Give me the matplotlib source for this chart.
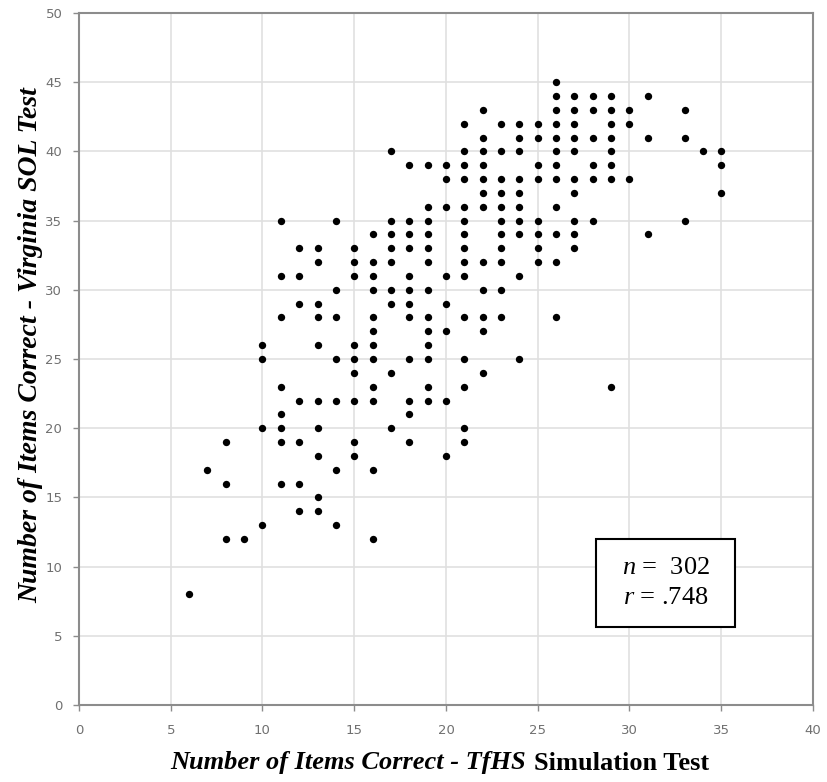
import matplotlib
matplotlib.use("Agg")
import matplotlib.pyplot as plt
from matplotlib.offsetbox import TextArea, HPacker, AnchoredOffsetbox
from matplotlib.patches import Rectangle

# TfHS simulation test score (x) and Virginia SOL test score (y), row by row
tfhs = [
    26,
    26, 27, 28, 29, 31,
    22, 26, 27, 28, 29, 30, 33,
    21, 23, 24, 25, 26, 27, 29, 30,
    22, 24, 25, 26, 27, 28, 29, 31, 33,
    17, 21, 22, 23, 24, 26, 27, 29, 34, 35,
    18, 19, 20, 21, 22, 25, 26, 28, 29, 35,
    20, 21, 22, 23, 24, 25, 26, 27, 28, 29, 30,
    22, 23, 24, 27, 35,
    19, 20, 21, 22, 23, 24, 26,
    11, 14, 17, 18, 19, 21, 23, 24, 25, 27, 28, 33,
    16, 17, 18, 19, 21, 23, 24, 25, 26, 27, 31,
    12, 13, 15, 17, 18, 19, 21, 23, 25, 27,
    13, 15, 16, 17, 19, 21, 22, 23, 25, 26,
    11, 12, 15, 16, 18, 20, 21, 24,
    14, 16, 17, 18, 19, 22, 23,
    12, 13, 17, 18, 20,
    11, 13, 14, 16, 18, 19, 21, 22, 23, 26,
    16, 19, 20, 22,
    10, 13, 15, 16, 19,
    10, 14, 15, 16, 18, 19, 21, 24,
    15, 17, 22,
    11, 16, 19, 21, 29,
    12, 13, 14, 15, 16, 18, 19, 20,
    11, 18,
    10, 11, 13, 17, 21,
    8, 11, 12, 15, 18, 21,
    13, 15, 20,
    7, 14, 16,
    8, 11, 12,
    13,
    12, 13,
    10, 14,
    8, 9, 16,
    6,
]
sol = [
    45,
    44, 44, 44, 44, 44,
    43, 43, 43, 43, 43, 43, 43,
    42, 42, 42, 42, 42, 42, 42, 42,
    41, 41, 41, 41, 41, 41, 41, 41, 41,
    40, 40, 40, 40, 40, 40, 40, 40, 40, 40,
    39, 39, 39, 39, 39, 39, 39, 39, 39, 39,
    38, 38, 38, 38, 38, 38, 38, 38, 38, 38, 38,
    37, 37, 37, 37, 37,
    36, 36, 36, 36, 36, 36, 36,
    35, 35, 35, 35, 35, 35, 35, 35, 35, 35, 35, 35,
    34, 34, 34, 34, 34, 34, 34, 34, 34, 34, 34,
    33, 33, 33, 33, 33, 33, 33, 33, 33, 33,
    32, 32, 32, 32, 32, 32, 32, 32, 32, 32,
    31, 31, 31, 31, 31, 31, 31, 31,
    30, 30, 30, 30, 30, 30, 30,
    29, 29, 29, 29, 29,
    28, 28, 28, 28, 28, 28, 28, 28, 28, 28,
    27, 27, 27, 27,
    26, 26, 26, 26, 26,
    25, 25, 25, 25, 25, 25, 25, 25,
    24, 24, 24,
    23, 23, 23, 23, 23,
    22, 22, 22, 22, 22, 22, 22, 22,
    21, 21,
    20, 20, 20, 20, 20,
    19, 19, 19, 19, 19, 19,
    18, 18, 18,
    17, 17, 17,
    16, 16, 16,
    15,
    14, 14,
    13, 13,
    12, 12, 12,
    8,
]

x_ticks = [0, 5, 10, 15, 20, 25, 30, 35, 40]
y_ticks = [0, 5, 10, 15, 20, 25, 30, 35, 40, 45, 50]
stats_lines = ["$\\mathit{n}$ =  302", "$\\mathit{r}$ = .748"]

plt.rcParams['mathtext.fontset'] = 'custom'
plt.rcParams['mathtext.it'] = 'Liberation Serif:italic'
plt.rcParams['mathtext.rm'] = 'Liberation Serif'

fig = plt.figure(figsize=(8.28, 7.82), dpi=100)
ax = fig.add_axes([79 / 828, 1 - 705 / 782, (813 - 79) / 828, (705 - 13) / 782])

ax.scatter(tfhs, sol, s=28, c='black', marker='o', linewidths=0, zorder=3)

ax.set_xlim(0, 40)
ax.set_ylim(0, 50)
ax.set_xticks(x_ticks)
ax.set_yticks(y_ticks)
ax.grid(True, color='#e0e0e0', linewidth=1.2, zorder=0)
ax.set_axisbelow(True)
for sp in ax.spines.values():
    sp.set_color('#8c8c8c')
    sp.set_linewidth(1.5)
ax.tick_params(axis='both', colors='#8c8c8c', length=4, width=1, labelsize=9.5,
               labelcolor='#707070')
ax.tick_params(axis='x', pad=10)
ax.tick_params(axis='y', pad=8)

# y label
fig.text(31 / 828, 1 - 345 / 782, "Number of Items Correct - Virginia SOL Test",
         rotation=90, ha='center', va='center', fontsize=20,
         family='Liberation Serif', weight='bold', style='italic')

# x label with mixed styles
p1 = TextArea("Number of Items Correct - TfHS",
              textprops=dict(family='Liberation Serif', weight='bold',
                             style='italic', fontsize=19))
p2 = TextArea("Simulation Test",
              textprops=dict(family='Liberation Serif', weight='bold',
                             fontsize=19))
pack = HPacker(children=[p1, p2], align='baseline', pad=0, sep=6)
anch = AnchoredOffsetbox(loc='center', child=pack, frameon=False,
                         bbox_to_anchor=(440 / 828, 1 - 763 / 782),
                         bbox_transform=fig.transFigure, borderpad=0, pad=0)
fig.add_artist(anch)

# stats box
rect = Rectangle((596 / 828, 1 - 627 / 782), (735 - 596) / 828, (627 - 539) / 782,
                 transform=fig.transFigure, facecolor='white', edgecolor='black',
                 linewidth=1.5, zorder=5)
fig.add_artist(rect)
fig.text(666 / 828, 1 - 568 / 782, stats_lines[0], ha='center', va='center',
         fontsize=19, family='Liberation Serif', zorder=6)
fig.text(666 / 828, 1 - 598 / 782, stats_lines[1], ha='center', va='center',
         fontsize=19, family='Liberation Serif', zorder=6)

fig.savefig("out.png", dpi=100, facecolor='white')
